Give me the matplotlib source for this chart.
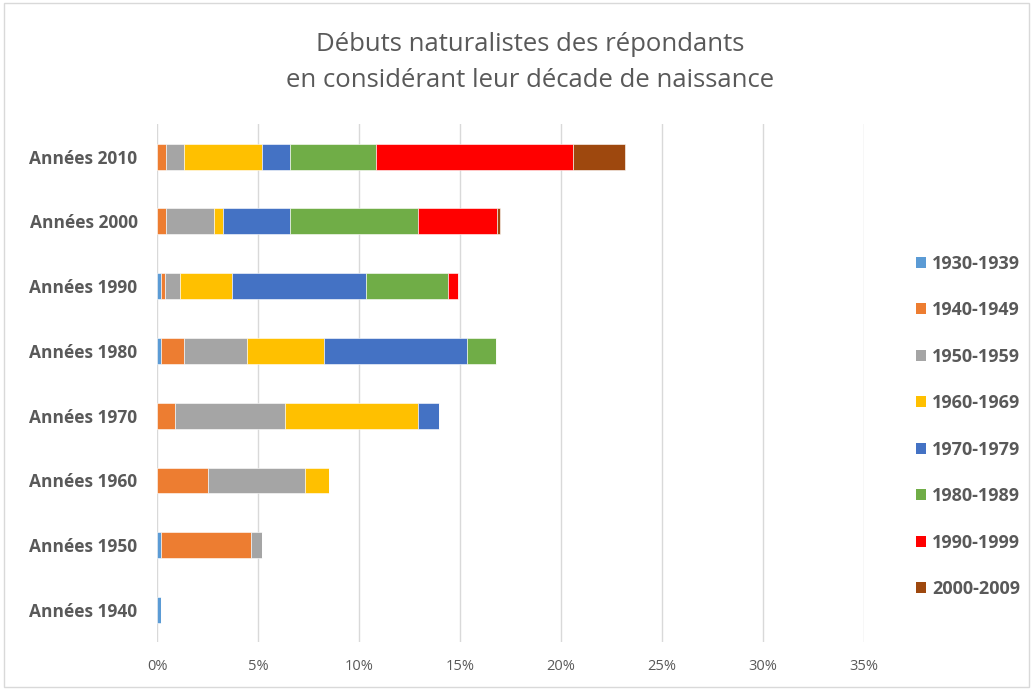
import matplotlib
matplotlib.use("Agg")
import matplotlib.pyplot as plt
import matplotlib.ticker as mtick
from matplotlib.patches import Patch, Rectangle
import numpy as np

plt.rcParams['font.family'] = ['Open Sans', 'DejaVu Sans']

# catégories (décennie des débuts) et séries (décennie de naissance)
categories = ['Années 1940', 'Années 1950', 'Années 1960', 'Années 1970',
              'Années 1980', 'Années 1990', 'Années 2000', 'Années 2010']
series_labels = ['1930-1939', '1940-1949', '1950-1959', '1960-1969',
                 '1970-1979', '1980-1989', '1990-1999', '2000-2009']
colors = ['#5B9BD5', '#ED7D31', '#A5A5A5', '#FFC000',
          '#4472C4', '#70AD47', '#FF0000', '#9E480E']

# valeurs en %, une liste par série, dans l'ordre des catégories
s1930 = [0.21, 0.21, 0.00, 0.00, 0.21, 0.21, 0.00, 0.00]
s1940 = [0.00, 4.44, 2.54, 0.89, 1.14, 0.20, 0.43, 0.43]
s1950 = [0.00, 0.54, 4.79, 5.43, 3.10, 0.74, 2.38, 0.91]
s1960 = [0.00, 0.00, 1.19, 6.63, 3.80, 2.57, 0.46, 3.86]
s1970 = [0.00, 0.00, 0.00, 1.01, 7.11, 6.65, 3.33, 1.40]
s1980 = [0.00, 0.00, 0.00, 0.00, 1.45, 4.03, 6.35, 4.24]
s1990 = [0.00, 0.00, 0.00, 0.00, 0.00, 0.49, 3.90, 9.75]
s2000 = [0.00, 0.00, 0.00, 0.00, 0.00, 0.00, 0.16, 2.59]
series = [s1930, s1940, s1950, s1960, s1970, s1980, s1990, s2000]

grey = '#595959'
fig = plt.figure(figsize=(10.33, 6.90), dpi=100)
ax = fig.add_axes([0.152, 0.069, 0.684, 0.751])

y = np.arange(len(categories))
left = np.zeros(len(categories))
for vals, lab, col in zip(series, series_labels, colors):
    vals = np.array(vals)
    ax.barh(y, vals, left=left, height=0.4, color=col, label=lab,
            edgecolor='white', linewidth=0.4, zorder=3)
    left += vals

ax.set_xlim(0, 35)
ax.set_ylim(-0.5, len(categories) - 0.5)
ax.set_xticks(np.arange(0, 36, 5))
ax.xaxis.set_major_formatter(mtick.PercentFormatter(decimals=0))
ax.set_yticks(y)
ax.set_yticklabels(categories, fontsize=12.5, fontweight='bold', color=grey)
ax.tick_params(axis='x', length=0, labelsize=10.5, labelcolor=grey, pad=12)
ax.tick_params(axis='y', length=0, pad=14)
ax.grid(axis='x', color='#D9D9D9', linewidth=1, zorder=0)
for s in ax.spines.values():
    s.set_visible(False)

fig.text(0.513, 0.935, 'Débuts naturalistes des répondants', ha='center',
         va='center', fontsize=18.5, color=grey)
fig.text(0.513, 0.884, 'en considérant leur décade de naissance', ha='center',
         va='center', fontsize=18.5, color=grey)

handles = [Patch(facecolor=c, label=l) for c, l in zip(colors, series_labels)]
leg = fig.legend(handles=handles, loc='center left', bbox_to_anchor=(0.871, 0.382),
                 frameon=False, fontsize=13, labelspacing=1.58,
                 handlelength=0.55, handleheight=0.55, handletextpad=0.35)
for t in leg.get_texts():
    t.set_color(grey)
    t.set_fontweight('bold')

fig.patches.append(Rectangle((0.004, 0.004), 0.992, 0.992, transform=fig.transFigure,
                             fill=False, edgecolor='#D9D9D9', linewidth=1))

fig.savefig('out.png', dpi=100)
